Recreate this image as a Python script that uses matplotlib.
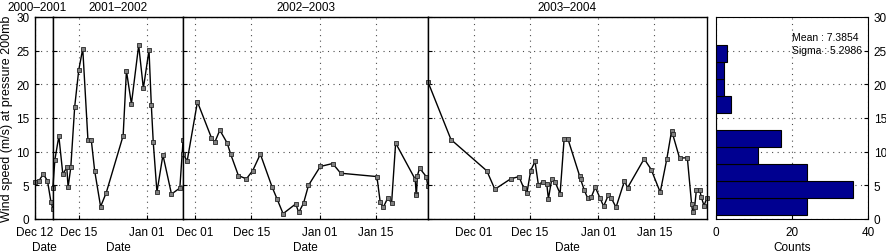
import numpy as np
import matplotlib
matplotlib.use("Agg")
import matplotlib.pyplot as plt

plt.rcParams['font.family'] = ['Liberation Sans', 'DejaVu Sans']
plt.rcParams['font.size'] = 8.5

# days counted from Dec 01 of each season (Jan 01 = 31)
seasons = ['2000\u20132001', '2001\u20132002', '2002\u20132003', '2003\u20132004']

d00 = [11.0, 12.0, 13.05, 14.1, 14.96, 15.45]
v00 = [5.56, 5.7, 6.66, 5.7, 2.58, 1.5]

d01 = [7.56, 8.06, 9.05, 10.04, 11.03, 11.35, 12.02, 13.0, 14.0, 15.0, 16.3, 17.14,
       17.96, 19.45, 20.86, 25.06, 25.88, 27.12, 28.93, 30.1, 31.5, 32.07, 32.56,
       33.48, 34.97, 37.1, 39.18, 40.0]
v01 = [4.6, 8.8, 12.3, 6.66, 7.65, 4.72, 7.65, 16.7, 22.1, 25.3, 11.67, 11.67,
       7.2, 1.83, 3.92, 12.37, 22.0, 17.1, 25.8, 19.4, 25.1, 17.0, 11.4,
       4.0, 9.5, 3.7, 4.6, 11.8]

d02 = [-2.99, -1.99, 0.57, 4.05, 4.9, 6.14, 7.96, 8.88, 10.77, 12.76, 14.35, 16.24,
       19.15, 20.4, 21.9, 25.05, 25.8, 26.99, 28.23, 31.17, 34.25, 36.24, 45.27,
       46.09, 46.84, 47.94, 48.93, 49.93, 54.8, 55.05, 55.1, 55.35, 55.9, 57.54, 57.96]
v02 = [9.69, 8.6, 17.4, 12.07, 11.4, 13.2, 11.3, 9.58, 6.45, 5.96, 7.2, 9.64,
       4.77, 2.98, 0.79, 2.24, 0.97, 2.34, 5.0, 7.8, 8.24, 6.8, 6.3,
       2.5, 1.71, 3.1, 2.4, 11.28, 5.9, 3.7, 3.5, 6.45, 7.56, 6.3, 4.9]

d03 = [-11.43, -5.68, 3.25, 5.25, 9.18, 11.25, 12.43, 13.25, 14.18, 15.25, 16.08,
       17.33, 18.18, 18.58, 19.43, 20.25, 21.5, 22.5, 23.43, 26.33, 26.6, 27.5,
       28.33, 29.25, 30.25, 31.43, 32.33, 33.5, 34.18, 35.43, 37.5, 38.33, 42.43,
       44.18, 46.43, 48.08, 49.25, 49.5, 51.25, 53.18, 54.25, 54.5, 55.0, 55.43,
       56.25, 56.68, 57.33, 58.08]
v03 = [20.4, 11.8, 7.15, 4.42, 5.96, 6.3, 4.62, 3.92, 7.2, 8.54, 5.11,
       5.56, 5.2, 2.98, 5.96, 5.47, 3.77, 11.92, 11.92, 6.45, 5.9, 4.32,
       3.13, 3.23, 4.72, 3.13, 1.89, 3.53, 3.18, 1.74, 5.61, 4.67, 8.94,
       7.35, 3.97, 8.94, 13.06, 12.67, 9.04, 9.1, 2.19, 1.04, 1.74, 4.32,
       4.32, 3.23, 1.98, 3.18]

days = [d00, d01, d02, d03]
vals = [v00, v01, v02, v03]

tick_pos = [[11], [14, 31], [0, 14, 31, 45], [0, 14, 31, 45]]
tick_lab = [['Dec 12'], ['Dec 15', 'Jan 01'],
            ['Dec 01', 'Dec 15', 'Jan 01', 'Jan 15'],
            ['Dec 01', 'Dec 15', 'Jan 01', 'Jan 15']]

# histogram
bin_edges = [0.55, 3.08, 5.60, 8.13, 10.65, 13.18, 15.70, 18.23, 20.75, 23.28, 25.80]
counts = [24, 36, 24, 11, 17, 0, 4, 2, 2, 3]

W, H = 886, 253
fig = plt.figure(figsize=(W / 100, H / 100), dpi=100)

x0, x1 = 35, 707
y_bot, y_top = 220, 18
spans = [max(d) - min(d) for d in days]
tot = sum(spans)

grid_kw = dict(color='0.3', linestyle=(0, (1, 4)), linewidth=0.8)

left = x0
axes = []
for i in range(4):
    w = (x1 - x0) * spans[i] / tot
    ax = fig.add_axes([left / W, (H - y_bot) / H, w / W, (y_bot - y_top) / H])
    left += w
    ax.plot(days[i], vals[i], '-s', color='k', lw=1.0, ms=3,
            mfc='0.5', mec='0.15', mew=0.6, clip_on=False)
    ax.set_xlim(min(days[i]), max(days[i]))
    ax.set_ylim(0, 30)
    ax.set_yticks(range(0, 31, 5))
    ax.set_xticks(tick_pos[i])
    ax.set_xticklabels(tick_lab[i])
    ax.tick_params(direction='in', length=3, width=0.8, pad=4)
    ax.tick_params(axis='x', pad=5)
    if i > 0:
        ax.tick_params(labelleft=False)
    ax.grid(True, **grid_kw)
    ax.set_xlabel('Date', labelpad=2)
    # first title sits a bit left so it stays clear of the next one
    ax.set_title(seasons[i], pad=5, fontsize=8.5, x=(0.1 if i == 0 else 0.5))
    for s in ax.spines.values():
        s.set_linewidth(1.0)
    axes.append(ax)

axes[0].set_ylabel('Wind speed (m/s) at pressure 200mb', labelpad=2, fontsize=9)

# histogram panel
hx0, hx1 = 716, 868
hax = fig.add_axes([hx0 / W, (H - y_bot) / H, (hx1 - hx0) / W, (y_bot - y_top) / H])
hax.barh(bin_edges[:-1], counts, height=np.diff(bin_edges), align='edge',
         color='#000090', edgecolor='k', linewidth=0.8, zorder=2)
hax.set_xlim(0, 40)
hax.set_ylim(0, 30)
hax.set_xticks([0, 20, 40])
hax.set_yticks(range(0, 31, 5))
hax.yaxis.tick_right()
hax.tick_params(direction='in', length=3, width=0.8, pad=4)
hax.tick_params(axis='x', pad=5)
hax.grid(True, zorder=0, **grid_kw)
hax.set_axisbelow(True)
hax.set_xlabel('Counts', labelpad=2)
hax.text(20, 27.0, 'Mean : 7.3854', fontsize=7.5, va='center', ha='left')
hax.text(20, 25.1, 'Sigma : 5.2986', fontsize=7.5, va='center', ha='left')

fig.savefig('out.png', dpi=100)
